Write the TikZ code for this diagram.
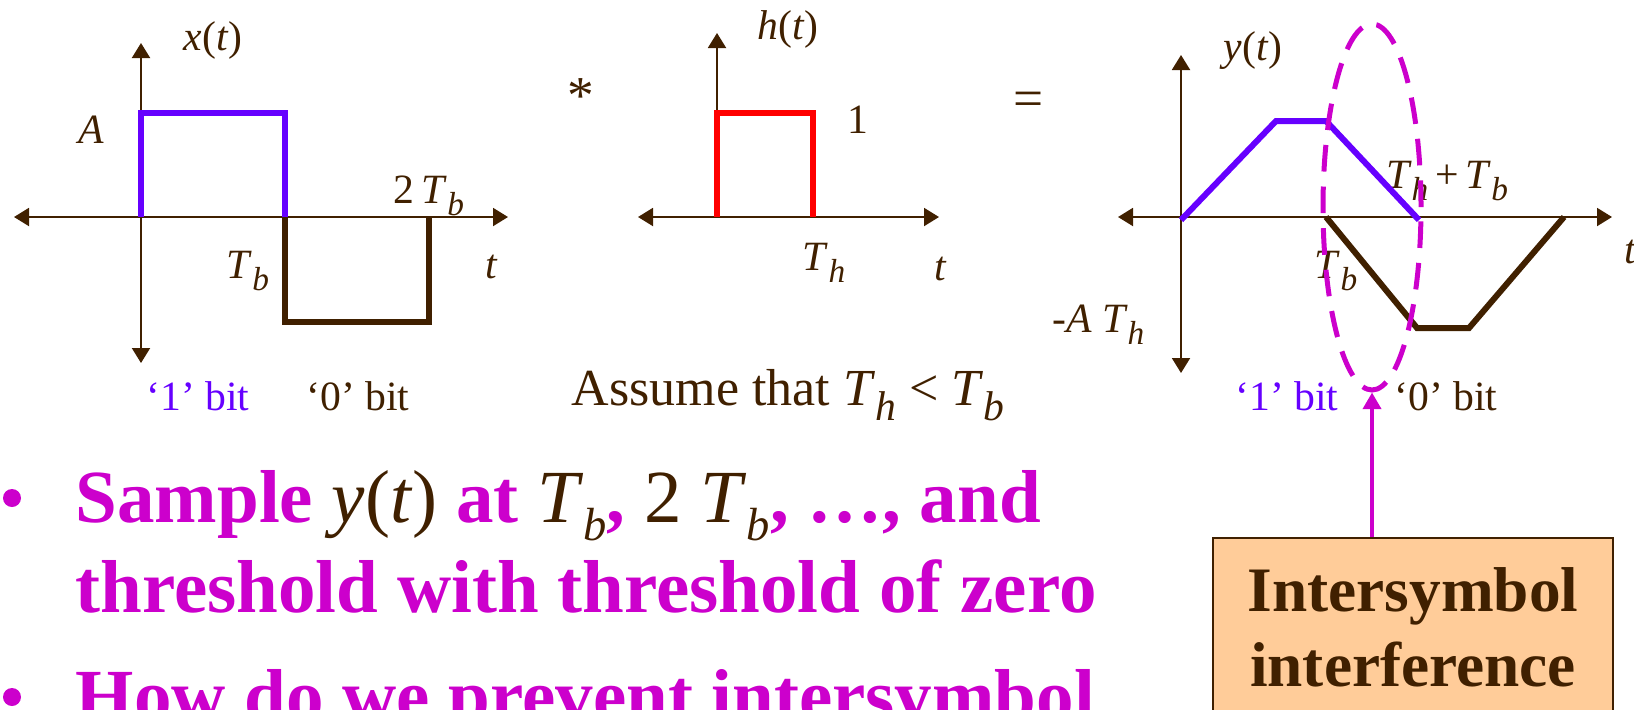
\documentclass[tikz,border=0pt]{standalone}
\usepackage{fontspec}
\setmainfont{Liberation Serif}
\usepackage{tikz}
\usetikzlibrary{arrows.meta,shapes.geometric}

\definecolor{bitbrown}{RGB}{64,32,0}
\definecolor{bitblue}{RGB}{102,0,255}
\definecolor{slidemag}{RGB}{204,0,204}
\definecolor{boxpeach}{RGB}{255,204,153}

\newcommand{\lowsub}[1]{\raisebox{-0.3em}{\scalebox{0.8}{\itshape #1}}}
\newcommand{\Tb}{\textit{T}\lowsub{b}}
\newcommand{\Th}{\textit{T}\lowsub{h}}
\newcommand{\bigTb}{\textit{T}\raisebox{-0.24em}{\scalebox{0.62}{\itshape b}}}

\tikzset{
  sigaxis/.style={bitbrown, line width=0.6pt, {Triangle[length=4.5pt,width=5.4pt]}-{Triangle[length=4.5pt,width=5.4pt]}},
  upaxis/.style={bitbrown, line width=0.6pt, -{Triangle[length=4.5pt,width=5.4pt]}},
  pulse/.style={line width=1.8pt},
  lbl/.style={text=bitbrown, font=\fontsize{12.5}{14}\selectfont, inner sep=0pt, anchor=base},
  opsign/.style={text=bitbrown, font=\fontsize{16}{18}\selectfont, inner sep=0pt},
  isiring/.style={ellipse, draw=slidemag, line width=1.5pt, dash pattern=on 8pt off 4.5pt, minimum width=29.4pt, minimum height=109.8pt, inner sep=0pt},
  isiarrow/.style={slidemag, line width=1.2pt, -{Triangle[length=5pt,width=5.4pt]}},
  isibox/.style={draw=bitbrown, line width=0.6pt, fill=boxpeach, text=bitbrown, anchor=north, minimum width=120pt, inner ysep=8.9pt, align=center, font=\bfseries\fontsize{19}{22.5}\selectfont},
  bullettext/.style={text=slidemag, inner sep=0pt, anchor=base west, font=\bfseries\fontsize{22.5}{27}\selectfont},
  bulletdot/.style={circle, fill=slidemag, minimum size=5.4pt, inner sep=0pt}
}

\begin{document}
\begin{tikzpicture}[x=0.3pt,y=0.3pt,yscale=-1]
\useasboundingbox (0,0) rectangle (1634,709);

%Shape: x(t) axes
\draw[sigaxis] (14,217) -- (508,217);
\draw[sigaxis] (141,43) -- (141,363);
%Shape: h(t) axes
\draw[sigaxis] (638,217) -- (939,217);
\draw[upaxis] (717,217) -- (717,33);
%Shape: y(t) axes
\draw[sigaxis] (1118,217) -- (1612,217);
\draw[sigaxis] (1181,55) -- (1181,373);

% Text Node
\node[lbl] (xlab) at (213,50) {\textit{x}(\textit{t})};
\node[lbl] (xamp) at (91,143) {\textit{A}};
\node[lbl] (xtwotb) at (429,203) {2\,\Tb};
\node[lbl] (xtb) at (248,278) {\Tb};
\node[lbl] (xt) at (492,278) {\textit{t}};
\node[lbl, text=bitblue] (xone) at (198,410) {‘1’ bit};
\node[lbl] (xzero) at (358,410) {‘0’ bit};
% Text Node
\node[lbl] (hlab) at (788,39) {\textit{h}(\textit{t})};
\node[lbl] (hone) at (858,133) {1};
\node[lbl] (hth) at (824,270) {\Th};
\node[lbl] (ht) at (941,280) {\textit{t}};
\node[opsign] (conv) at (581,96) {*};
\node[opsign] (equals) at (1029,104) {=};
\node[lbl, font=\fontsize{15.6}{18}\selectfont] (assume) at (788,405) {Assume that \Th\ < \Tb};
% Text Node
\node[lbl] (ylab) at (1253,60) {\textit{y}(\textit{t})};
\node[lbl] (ysum) at (1447,188) {\Th\,+\,\Tb};
\node[lbl] (ytb) at (1336,278) {\Tb};
\node[lbl, anchor=base east] (ymin) at (1145,332) {-\textit{A} \Th};
\node[lbl, anchor=base west] (yt) at (1624,263) {\textit{t}};
\node[lbl, text=bitblue] (yone) at (1287,410) {‘1’ bit};
\node[lbl] (yzero) at (1446,410) {‘0’ bit};

%Shape: x(t) pulses
\draw[pulse, bitblue] (141,217) -- (141,113) -- (285,113) -- (285,217);
\draw[pulse, bitbrown] (285,217) -- (285,322) -- (429,322) -- (429,217);
%Shape: h(t) pulse
\draw[pulse, red] (717,217) -- (717,113) -- (813,113) -- (813,217);
%Shape: y(t) trapezoids
\draw[pulse, bitblue] (1181,220) -- (1276,121) -- (1326,121) -- (1419,220);
\draw[pulse, bitbrown] (1326,217) -- (1417,328) -- (1469,328) -- (1564,217);

%Shape: overlap ring and callout
\node[isiring] (isi) at (1372,207) {};
\node[isibox] (box) at (1413,537) {Intersymbol\\interference};
\draw[isiarrow] (isi.south |- box.north) -- (isi.south);

% Bullets
\node[bulletdot] (dotA) at (12,498) {};
\node[bullettext] (sampleA) at (75,522) {Sample {\mdseries\color{bitbrown}\textit{y}(\textit{t})} at {\mdseries\color{bitbrown}\bigTb}, {\mdseries\color{bitbrown}2 \bigTb}, …, and};
\node[bullettext] (sampleB) at (75,612) {threshold with threshold of zero};
\node[bulletdot] (dotB) at (12,697) {};
\node[bullettext] (prevent) at (75,721) {How do we prevent intersymbol};

\end{tikzpicture}
\end{document}
